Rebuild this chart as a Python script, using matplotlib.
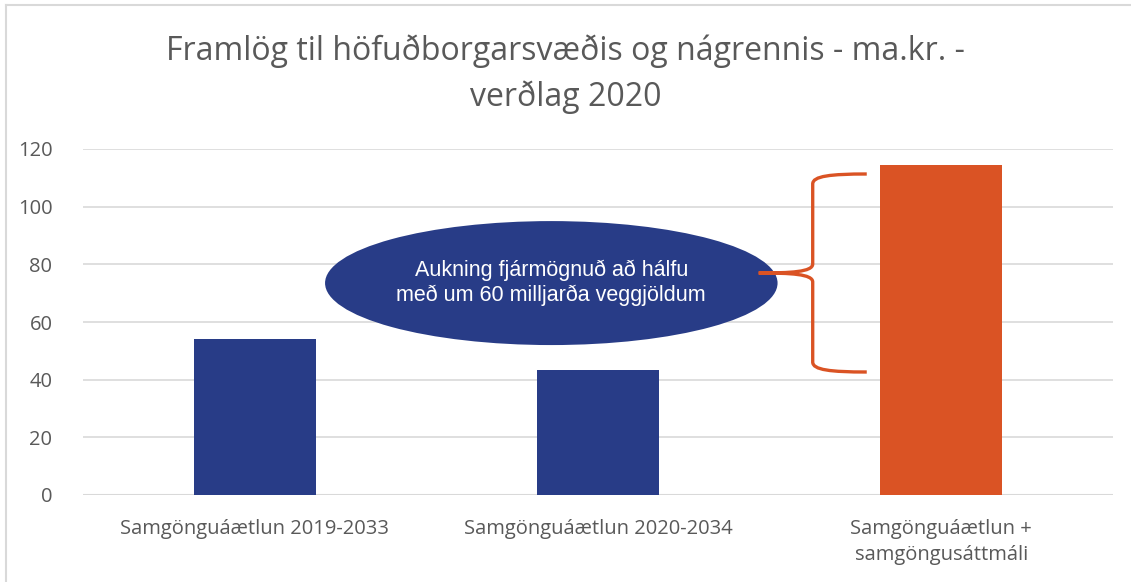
import matplotlib
matplotlib.use("Agg")
import matplotlib.pyplot as plt
from matplotlib.patches import Ellipse, PathPatch
from matplotlib.path import Path
from matplotlib.lines import Line2D

categories = ["Samgönguáætlun 2019-2033", "Samgönguáætlun 2020-2034", "Samgönguáætlun +\nsamgöngusáttmáli"]
values = [54, 43.5, 114.5]
bar_colors = ["#283C87", "#283C87", "#DA5324"]
yticks = [0, 20, 40, 60, 80, 100, 120]
title = "Framlög til höfuðborgarsvæðis og nágrennis - ma.kr. -\nverðlag 2020"
callout = "Aukning fjármögnuð að hálfu\nmeð um 60 milljarða veggjöldum"

W, H = 1131, 582
fig = plt.figure(figsize=(W / 100, H / 100), dpi=100)
ax = fig.add_axes([83 / W, 1 - 495 / H, (1113 - 83) / W, (495 - 149) / H])

x = list(range(len(categories)))
ax.bar(x, values, width=0.355, color=bar_colors, zorder=3)
ax.set_xlim(-0.5, 2.5)
ax.set_ylim(0, 120)
ax.set_yticks(yticks)
ax.set_xticks(x)
ax.set_xticklabels(categories, fontsize=14.5, color="#595959", family="Open Sans", linespacing=1.45)
ax.set_yticklabels([str(t) for t in yticks], fontsize=14.5, color="#595959", family="Open Sans")
ax.tick_params(axis="y", length=0, pad=22)
ax.tick_params(axis="x", length=0, pad=17)
for s in ax.spines.values():
    s.set_visible(False)
ax.grid(axis="y", color="#D9D9D9", linewidth=1.2, zorder=0)
ax.axhline(0, color="#D9D9D9", linewidth=1.5, zorder=1)

fig.text(0.5, 1 - 74 / H, title, ha="center", va="center", fontsize=23,
         color="#595959", family="Open Sans", linespacing=1.5)

# callout ellipse (data coords)
ell = Ellipse((0.864, 73.5), 1.318, 43, facecolor="#283C87", edgecolor="none", zorder=5)
ax.add_patch(ell)
ax.text(0.864, 73.5, callout, ha="center", va="center", color="white", fontsize=15.5,
        family="Liberation Sans", linespacing=1.2, zorder=6)

# brace
def px2d(px, py):
    return ((px - 83) / 343 - 0.5, (495 - py) / 2.8833)

pts = [
    (866, 174), (830, 174), (812, 176), (812, 184),
    (812, 264),
    (812, 272), (790, 273), (758, 273),
    (790, 273), (812, 274), (812, 282),
    (812, 362),
    (812, 370), (830, 372), (866, 372),
]
codes = [Path.MOVETO, Path.CURVE4, Path.CURVE4, Path.CURVE4,
         Path.LINETO,
         Path.CURVE4, Path.CURVE4, Path.CURVE4,
         Path.CURVE4, Path.CURVE4, Path.CURVE4,
         Path.LINETO,
         Path.CURVE4, Path.CURVE4, Path.CURVE4]
path = Path([px2d(*p) for p in pts], codes)
ax.add_patch(PathPatch(path, facecolor="none", edgecolor="#DA5324", linewidth=2.4,
                       capstyle="butt", zorder=7))

# chart border (top and left)
fig.add_artist(Line2D([6 / W, 1], [1 - 5 / H, 1 - 5 / H], color="#D9D9D9", linewidth=1.5,
                      transform=fig.transFigure))
fig.add_artist(Line2D([6 / W, 6 / W], [0, 1 - 5 / H], color="#D9D9D9", linewidth=1.5,
                      transform=fig.transFigure))

fig.savefig("out.png", dpi=100, facecolor="white")
